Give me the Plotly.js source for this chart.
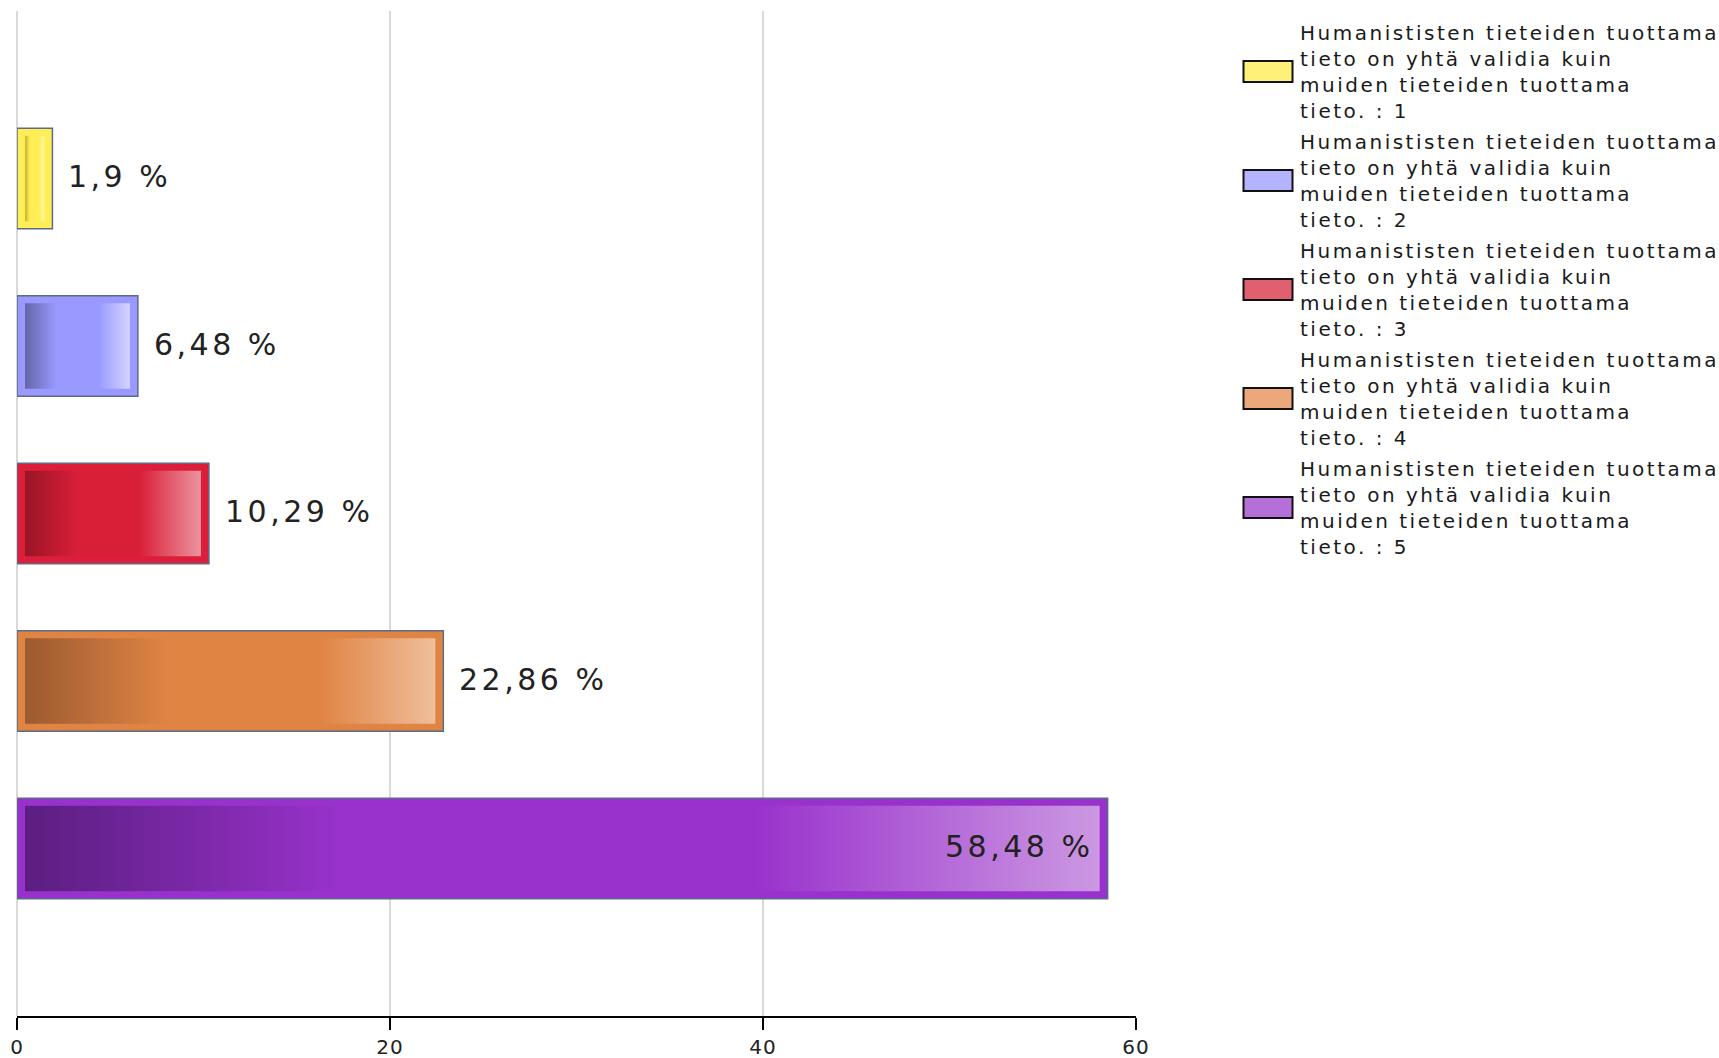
<!DOCTYPE html>
<html>
<head>
<meta charset="utf-8">
<script src="https://cdn.plot.ly/plotly-3.0.1.min.js"></script>
<style>
  html, body { margin: 0; padding: 0; background: #ffffff; }
  #chart { width: 1719px; height: 1058px; }
  text.legendtext { letter-spacing: 2.5px; }
  text.annotation-text { letter-spacing: 3.5px; }
  .js-plotly-plot .xtick text { letter-spacing: 1px; }
</style>
</head>
<body>
<div id="chart"></div>
<script>
// ---------------- DATA ----------------
var categories = ['1', '2', '3', '4', '5'];
var values = [1.9, 6.48, 10.29, 22.86, 58.48];
var valueLabels = ['1,9 %', '6,48 %', '10,29 %', '22,86 %', '58,48 %'];
var questionLines = [
  'Humanististen tieteiden tuottama',
  'tieto on yhtä validia kuin',
  'muiden tieteiden tuottama',
  'tieto. :'
];
var xTickVals = [0, 20, 40, 60];

// ---------------- STYLE ----------------
var FONT = 'Verdana, "DejaVu Sans", sans-serif';
var bandColors = ['#ffee55', '#9999ff', '#dc1e3a', '#e08444', '#9932cc'];
var legendColors = ['#fff07a', '#b3b3ff', '#e06070', '#eba87a', '#b46fd8'];
var gradients = [
  [[0, '#c8b032'], [0.25, '#ffee55'], [0.7, '#ffee55'], [1, '#fff6a8']],
  [[0, '#6565a8'], [0.3, '#9999ff'], [0.7, '#9999ff'], [1, '#d4d4ff']],
  [[0, '#9a1426'], [0.3, '#d91f38'], [0.65, '#d91f38'], [1, '#eb939e']],
  [[0, '#9c5a30'], [0.35, '#e08444'], [0.72, '#e08444'], [1, '#efbe9b']],
  [[0, '#5b1e80'], [0.3, '#9932cc'], [0.68, '#9932cc'], [1, '#cc98e2']]
];
var W = 1719, H = 1058;
var M = {l: 17, r: 583, t: 11, b: 42};
var plotW = W - M.l - M.r, plotH = H - M.t - M.b;
var XMAX = 60;
var BARW = 0.6;
var insetX = 8 * XMAX / plotW;       // 8 px in x units
var insetY = 7.5 * 6 / plotH;        // 7.5 px in category units (range spans 6)

// ---------------- TRACES ----------------
var traces = [];
categories.forEach(function (c, i) {
  traces.push({
    type: 'bar', orientation: 'h',
    y: [c], x: [values[i]],
    width: BARW,
    name: questionLines.join('<br>') + ' ' + c,
    legendgroup: 'g' + c,
    marker: {color: bandColors[i], line: {color: '#5b6b88', width: 1.5}},
    hoverinfo: 'skip'
  });
});
categories.forEach(function (c, i) {
  traces.push({
    type: 'bar', orientation: 'h',
    y: [c], x: [values[i] - 2 * insetX], base: [insetX],
    width: BARW - 2 * insetY,
    showlegend: false,
    marker: {color: bandColors[i], line: {width: 0}},
    hoverinfo: 'skip'
  });
});

var annotations = categories.map(function (c, i) {
  var inside = values[i] > 40;
  return {
    x: values[i], y: i, xref: 'x', yref: 'y',
    text: valueLabels[i], showarrow: false,
    xanchor: inside ? 'right' : 'left',
    yanchor: 'middle',
    xshift: inside ? -13 : 14,
    yshift: 2,
    font: {family: FONT, size: 30, color: '#222222'}
  };
});

var layout = {
  width: W, height: H,
  margin: M,
  paper_bgcolor: '#ffffff', plot_bgcolor: '#ffffff',
  barmode: 'overlay',
  showlegend: true,
  font: {family: FONT, color: '#222222'},
  xaxis: {
    range: [0, XMAX], tickvals: xTickVals,
    showgrid: true, gridcolor: '#d9d9d9', gridwidth: 1.5,
    zeroline: true, zerolinecolor: '#d9d9d9', zerolinewidth: 1.5,
    showline: true, linecolor: '#000000', linewidth: 2,
    ticks: 'outside', ticklen: 12, tickwidth: 2, tickcolor: '#000000',
    tickfont: {family: FONT, size: 20, color: '#222222'}
  },
  yaxis: {
    type: 'category', categoryorder: 'array', categoryarray: categories,
    range: [5, -1], autorange: false,
    showgrid: false, zeroline: false, showline: false,
    showticklabels: false, ticks: ''
  },
  legend: {
    xref: 'container', yref: 'container',
    x: 1238 / W, y: 1 - 13 / H, xanchor: 'left', yanchor: 'top',
    font: {family: FONT, size: 20, color: '#1a1a1a'},
    itemwidth: 52, valign: 'middle', maxheight: 1000,
    traceorder: 'grouped', tracegroupgap: 2,
    bgcolor: 'rgba(0,0,0,0)', borderwidth: 0
  },
  annotations: annotations
};

var gd = document.getElementById('chart');
Plotly.newPlot(gd, traces, layout, {staticPlot: true, displayModeBar: false}).then(function () {
  var ns = 'http://www.w3.org/2000/svg';
  var svg = gd.querySelector('.main-svg');
  var defs = svg.querySelector('defs');
  if (!defs) { defs = document.createElementNS(ns, 'defs'); svg.insertBefore(defs, svg.firstChild); }
  gradients.forEach(function (stops, i) {
    var lg = document.createElementNS(ns, 'linearGradient');
    lg.setAttribute('id', 'barGrad' + i);
    lg.setAttribute('x1', '0'); lg.setAttribute('x2', '1');
    lg.setAttribute('y1', '0'); lg.setAttribute('y2', '0');
    stops.forEach(function (s) {
      var st = document.createElementNS(ns, 'stop');
      st.setAttribute('offset', s[0]);
      st.setAttribute('stop-color', s[1]);
      lg.appendChild(st);
    });
    defs.appendChild(lg);
  });
  var groups = gd.querySelectorAll('.barlayer .trace');
  for (var k = 0; k < categories.length; k++) {
    var g = groups[categories.length + k];
    if (!g) continue;
    g.querySelectorAll('path').forEach(function (p) {
      p.style.fill = 'url(#barGrad' + k + ')';
    });
  }
  var lp = gd.querySelectorAll('.legend .traces');
  lp.forEach(function (t, i) {
    t.querySelectorAll('.legendpoints path').forEach(function (p) {
      p.setAttribute('d', 'M23.5,10.5H-25.5V-10.5H23.5Z');
      p.style.stroke = '#111111';
      p.style.strokeWidth = '2px';
      if (legendColors[i]) p.style.fill = legendColors[i];
    });
  });
});
</script>
</body>
</html>
